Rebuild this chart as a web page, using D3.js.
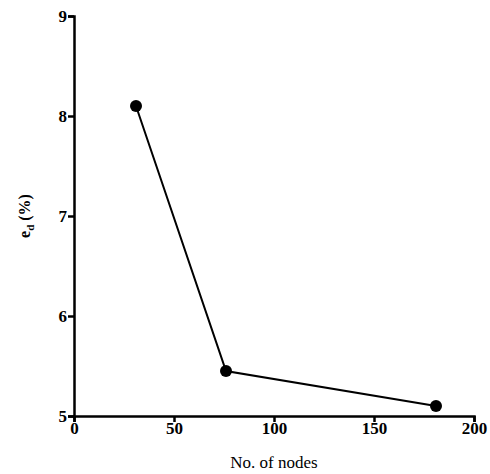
<!DOCTYPE html>
<meta charset="utf-8">
<style>
    body { margin: 0; background: #fff; }
    .axis path, .axis line { stroke: #000; stroke-width: 2.5px; }
</style>
<svg width="490" height="474"></svg>
<script src="https://d3js.org/d3.v7.min.js"></script>
<script>
    // data
    var nodes = [31, 76, 181];
    var errors = [8.1, 5.45, 5.1];
    var xTicks = [0, 50, 100, 150, 200];
    var yTicks = [5, 6, 7, 8, 9];

    var serif = "'Liberation Serif', 'Times New Roman', serif";

    var svg = d3.select("svg"),
        margin = { top: 16, right: 16, bottom: 58, left: 74 },
        g = svg.append("g").attr("transform", "translate(" + margin.left + "," + margin.top + ")");

    var x = d3.scaleLinear().domain([0, 200]).range([0, 400]);
    var y = d3.scaleLinear().domain([5, 9]).range([400, 0]);

    var data = nodes.map(function (d, i) { return { n: d, e: errors[i] }; });

    var xAxis = g.append("g")
        .attr("class", "axis")
        .attr("transform", "translate(0," + y(5) + ")")
        .call(d3.axisBottom(x).tickValues(xTicks).tickFormat(d3.format("d")).tickSizeOuter(0).tickSize(6).tickPadding(0));

    var yAxis = g.append("g")
        .attr("class", "axis")
        .call(d3.axisLeft(y).tickValues(yTicks).tickFormat(d3.format("d")).tickSizeOuter(0).tickSize(6).tickPadding(1));

    g.selectAll(".axis text")
        .style("font-family", serif)
        .style("font-size", "17px")
        .style("font-weight", "bold")
        .style("fill", "#000");

    var line = d3.line()
        .x(function (d) { return x(d.n); })
        .y(function (d) { return y(d.e); });

    g.append("path")
        .datum(data)
        .attr("fill", "none")
        .attr("stroke", "#000")
        .attr("stroke-width", 2)
        .attr("d", line);

    g.selectAll("circle")
        .data(data)
        .enter().append("circle")
        .attr("cx", function (d) { return x(d.n); })
        .attr("cy", function (d) { return y(d.e); })
        .attr("r", 6)
        .attr("fill", "#000");

    // axis titles
    svg.append("text")
        .attr("x", margin.left + x(100))
        .attr("y", 468)
        .attr("text-anchor", "middle")
        .style("font-family", serif)
        .style("font-size", "17px")
        .text("No. of nodes");

    var yl = svg.append("text")
        .attr("transform", "translate(30," + (margin.top + y(7)) + ")rotate(-90)")
        .attr("text-anchor", "middle")
        .style("font-family", serif)
        .style("font-size", "16px")
        .style("font-weight", "bold");
    yl.append("tspan").text("e");
    yl.append("tspan").attr("dy", 4).style("font-size", "11px").text("d");
    yl.append("tspan").attr("dy", -4).text(" (%)");
</script>
